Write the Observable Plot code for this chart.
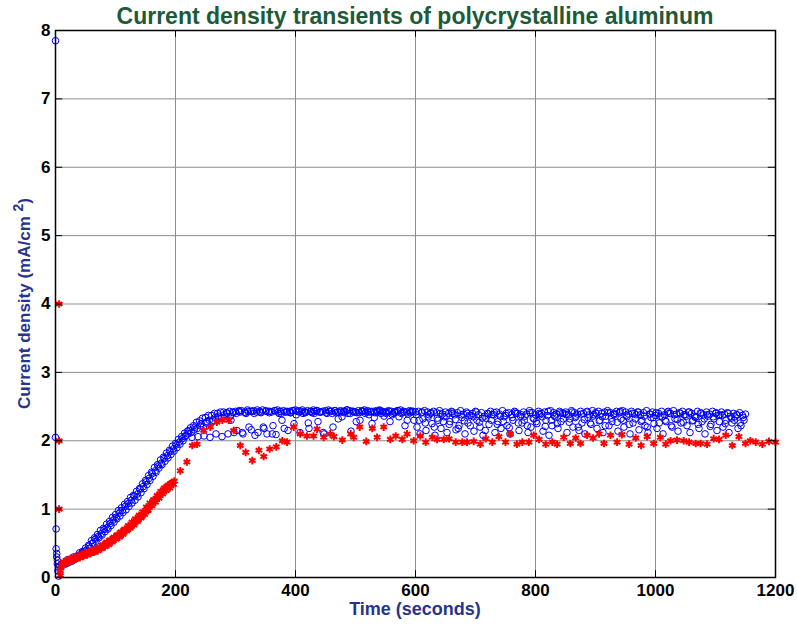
<!DOCTYPE html>
<html><head><meta charset="utf-8">
<script src="https://cdn.jsdelivr.net/npm/d3@7"></script>
<script src="https://cdn.jsdelivr.net/npm/@observablehq/plot@0.6"></script>
<style>body{margin:0;background:#fff} svg{font-family:"Liberation Sans",Arial,sans-serif}</style>
</head><body><div id="chart"></div>
<script>
const titleText = "Current density transients of polycrystalline aluminum";
const xLabel = "Time (seconds)";
const xTicks = [0, 200, 400, 600, 800, 1000, 1200];
const yTicks = [0, 1, 2, 3, 4, 5, 6, 7, 8];

// Blue series (circles): first few samples near t = 0
const blueStartT = [0, 0, 1, 1, 2, 2, 3, 3, 4, 5];
const blueStartV = [7.85, 2.05, 0.71, 0.42, 0.35, 0.30, 0.25, 0.20, 0.10, 0.02];

// Blue series A, sampled every 5 s from t = 5 s
const blueAStart = 5, blueAStep = 5;
const blueAValues = [
  0.15,0.20,0.21,0.26,0.27,0.30,0.31,0.36,0.38,0.43,
  0.47,0.54,0.58,0.63,0.69,0.72,0.78,0.82,0.88,0.92,
  0.98,1.02,1.07,1.11,1.17,1.20,1.26,1.30,1.37,1.42,
  1.49,1.54,1.61,1.65,1.72,1.76,1.82,1.86,1.92,1.96,
  2.02,2.06,2.11,2.14,2.19,2.22,2.27,2.29,2.33,2.34,
  2.37,2.37,2.40,2.40,2.42,2.42,2.41,2.43,2.42,2.43,
  2.43,2.44,2.42,2.45,2.43,2.44,2.42,2.43,2.45,2.44,
  2.43,2.42,2.44,2.45,2.43,2.44,2.42,2.43,2.44,2.45,
  2.44,2.43,2.42,2.44,2.43,2.45,2.44,2.42,2.43,2.44,
  2.45,2.43,2.44,2.42,2.44,2.43,2.45,2.44,2.43,2.42,
  2.44,2.43,2.45,2.44,2.42,2.43,2.44,2.45,2.43,2.42,
  2.44,2.43,2.42,2.44,2.45,2.43,2.42,2.44,2.43,2.42,
  2.43,2.41,2.44,2.42,2.40,2.43,2.41,2.44,2.39,2.42,
  2.40,2.43,2.38,2.41,2.44,2.39,2.42,2.37,2.40,2.43,
  2.38,2.41,2.36,2.40,2.43,2.38,2.42,2.39,2.44,2.37,
  2.41,2.38,2.43,2.40,2.36,2.42,2.39,2.44,2.41,2.38,
  2.43,2.40,2.42,2.37,2.44,2.41,2.39,2.43,2.40,2.42,
  2.38,2.44,2.41,2.39,2.43,2.40,2.42,2.38,2.44,2.41,
  2.43,2.40,2.42,2.44,2.41,2.39,2.43,2.41,2.44,2.42,
  2.39,2.43,2.40,2.42,2.38,2.41,2.44,2.39,2.42,2.37,
  2.40,2.43,2.38,2.42,2.40,2.44,2.39,2.41,2.43,2.38,
  2.42,2.40,2.36,2.43,2.41,2.38,2.42,2.39,2.43,2.40,
  2.37,2.42,2.39,2.41,2.36,2.40,2.38,2.41,2.37,2.39
];

// Blue series B, sampled every 5 s from t = 7.5 s
const blueBStart = 7.5, blueBStep = 5;
const blueBValues = [
  0.17,0.18,0.20,0.22,0.24,0.27,0.29,0.31,0.35,0.38,
  0.43,0.50,0.53,0.58,0.62,0.67,0.71,0.76,0.81,0.86,
  0.90,0.95,0.99,1.04,1.09,1.13,1.18,1.24,1.30,1.36,
  1.42,1.48,1.54,1.60,1.65,1.70,1.75,1.80,1.85,1.90,
  1.95,2.00,2.08,2.15,2.05,2.20,2.06,2.25,2.07,2.28,
  2.05,2.30,2.10,2.32,2.06,2.35,2.10,2.30,2.12,
  2.15,2.42,2.10,2.40,2.20,2.43,2.08,2.12,2.41,2.18,
  2.10,2.43,2.22,2.09,2.40,2.30,2.42,2.15,2.41,2.25,
  2.43,2.12,2.40,2.42,2.18,2.41,2.43,2.28,2.42,2.10,
  2.40,2.43,2.20,2.41,2.42,2.35,2.43,2.40,2.14,2.42,
  2.41,2.30,2.43,2.42,2.38,2.25,2.41,2.43,2.40,2.36,
  2.42,2.28,2.40,2.43,2.35,2.41,2.22,2.39,2.43,2.30,
  2.20,2.10,2.32,2.15,2.38,2.25,2.08,2.30,2.18,2.35,
  2.12,2.28,2.40,2.16,2.22,2.34,2.10,2.26,2.37,2.14,
  2.30,2.20,2.08,2.33,2.24,2.38,2.12,2.28,2.18,2.35,
  2.22,2.10,2.30,2.40,2.15,2.26,2.36,2.12,2.20,2.32,
  2.25,2.38,2.14,2.30,2.08,2.22,2.35,2.18,2.28,2.40,
  2.12,2.32,2.20,2.36,2.15,2.26,2.10,2.34,2.24,2.38,
  2.18,2.30,2.12,2.36,2.22,2.28,2.40,2.14,2.32,2.20,
  2.35,2.10,2.26,2.38,2.16,2.30,2.22,2.12,2.34,2.25,
  2.18,2.36,2.10,2.28,2.40,2.20,2.32,2.14,2.26,2.38,
  2.22,2.12,2.30,2.35,2.18,2.28,2.10,2.36,2.24,2.32,
  2.15,2.38,2.20,2.30,2.12,2.26,2.35,2.18,2.22,2.30
];

// Blue series C, sampled every 5 s from t = 11.25 s
const blueCStart = 11.25, blueCStep = 5;
const blueCValues = [
  0.20,0.21,0.24,0.25,0.28,0.30,0.33,0.37,0.40,0.46,
  0.50,0.56,0.60,0.64,0.70,0.73,0.79,0.84,0.88,0.94,
  0.98,1.04,1.08,1.13,1.19,1.22,1.29,1.33,1.40,1.45,
  1.52,1.56,1.63,1.67,1.74,1.78,1.84,1.88,1.94,1.98,
  2.03,2.06,2.10,2.12,2.16,2.18,2.22,2.20,2.26,2.30,
  2.28,2.34,2.36,2.33,2.38,2.40,2.36,2.41,
  2.40,2.44,2.12,2.41,2.43,2.16,2.40,2.45,2.42,2.20,
  2.43,2.41,2.10,2.44,2.42,2.40,2.18,2.43,2.41,2.44,
  2.38,2.42,2.45,2.41,2.26,2.43,2.40,2.44,2.42,2.12,
  2.41,2.43,2.40,2.44,2.32,2.42,2.41,2.45,2.40,2.43,
  2.28,2.41,2.44,2.40,2.42,2.43,2.34,2.41,2.44,2.42,
  2.40,2.43,2.38,2.41,2.44,2.40,2.42,2.30,2.41,2.43,
  2.38,2.30,2.42,2.26,2.35,2.41,2.20,2.33,2.40,2.28,
  2.36,2.24,2.42,2.31,2.18,2.38,2.29,2.40,2.22,2.35,
  2.42,2.27,2.33,2.15,2.39,2.30,2.41,2.24,2.36,2.28,
  2.40,2.19,2.34,2.42,2.26,2.38,2.30,2.22,2.41,2.33,
  2.28,2.40,2.35,2.21,2.43,2.30,2.37,2.25,2.41,2.32,
  2.38,2.27,2.42,2.34,2.20,2.39,2.31,2.43,2.26,2.36,
  2.40,2.29,2.35,2.22,2.41,2.33,2.38,2.27,2.43,2.30,
  2.37,2.24,2.40,2.32,2.42,2.28,2.36,2.20,2.39,2.34,
  2.41,2.26,2.35,2.30,2.43,2.22,2.38,2.31,2.40,2.27,
  2.36,2.42,2.29,2.34,2.24,2.40,2.32,2.38,2.21,2.35,
  2.41,2.28,2.37,2.25,2.40,2.33,2.30,2.38,2.26,2.34
];

// Red series (stars): first samples near t = 0
const redStartT = [6, 6, 6, 8, 8];
const redStartV = [4.00, 2.00, 1.00, 0.03, 0.10];

// Red series dense part, sampled every 3 s from t = 9 s
const redDenseStart = 9, redDenseStep = 3;
const redDenseValues = [
  0.14,0.20,0.21,0.23,0.24,0.26,0.26,0.27,0.28,0.29,
  0.30,0.31,0.32,0.33,0.34,0.35,0.36,0.37,0.38,0.39,
  0.41,0.42,0.44,0.45,0.47,0.49,0.51,0.52,0.54,0.56,
  0.58,0.60,0.61,0.63,0.65,0.67,0.69,0.71,0.73,0.75,
  0.78,0.80,0.83,0.85,0.88,0.90,0.93,0.96,1.00,1.03,
  1.06,1.09,1.12,1.15,1.18,1.22,1.25,1.28,1.31,1.33,
  1.35,1.37,1.39,1.41
];
// Red dense part, second interleaved set, every 3 s from t = 10.5 s
const redDense2Start = 10.5, redDense2Step = 3;
const redDense2Values = [
  0.19,0.23,0.20,0.25,0.22,0.28,0.25,0.30,0.27,0.32,
  0.29,0.34,0.31,0.36,0.33,0.38,0.35,0.40,0.37,0.42,
  0.39,0.45,0.42,0.48,0.45,0.52,0.48,0.55,0.52,0.59,
  0.56,0.63,0.59,0.67,0.63,0.71,0.68,0.76,0.72,0.81,
  0.77,0.86,0.82,0.91,0.87,0.96,0.92,1.03,0.98,1.09,
  1.05,1.14,1.10,1.20,1.16,1.26,1.22,1.31,1.27,1.35,
  1.31,1.38,1.36
];

// Red series sparse part
const redSparseT = [208,219,228,236,247,258,269,278,289,297,308,317,328,339,347,357,368,378,386,397,
  408,419,430,436,447,458,464,478,492,497,507,518,528,536,547,558,567,578,586,597,
  608,617,628,636,647,656,667,678,686,697,708,717,728,739,750,758,769,778,789,797,
  806,817,828,836,847,858,867,875,886,896,906,914,925,936,944,956,967,976,986,997,
  1008,1017,1025,1036,1047,1056,1067,1075,1086,1097,1106,1117,1128,1139,1150,1158,1167,1178,1189,1200];
const redSparseV = [1.56,1.69,1.93,1.95,2.15,2.20,2.27,2.30,2.30,2.15,1.93,1.83,1.71,1.86,1.77,1.88,1.91,2.00,1.98,2.20,
  2.10,2.07,2.07,2.17,2.05,2.10,2.06,2.01,2.10,2.05,2.20,1.99,2.18,2.05,2.20,2.02,2.07,2.02,2.10,2.00,
  2.07,1.98,2.05,2.02,2.02,2.03,1.98,1.98,1.98,1.99,1.95,2.03,1.98,2.06,1.98,2.10,1.95,1.98,1.98,2.08,
  2.02,1.95,1.98,1.95,2.05,1.96,2.04,1.96,2.08,2.04,2.10,1.96,2.08,1.98,2.09,1.95,2.04,1.93,2.06,1.96,
  2.05,1.95,2.00,2.01,2.00,1.98,1.96,1.96,1.95,2.03,2.02,2.08,1.93,2.06,1.96,2.00,1.98,1.95,1.99,1.98];

const seq = (vals, start, step) => vals.map((v, i) => ({t: start + step * i, v}));
const blue = [
  ...blueStartT.map((t, i) => ({t, v: blueStartV[i]})),
  ...seq(blueAValues, blueAStart, blueAStep),
  ...seq(blueBValues, blueBStart, blueBStep),
  ...seq(blueCValues, blueCStart, blueCStep)
];
const red = [
  ...redStartT.map((t, i) => ({t, v: redStartV[i]})),
  ...seq(redDenseValues, redDenseStart, redDenseStep),
  ...seq(redDense2Values, redDense2Start, redDense2Step),
  ...redSparseT.map((t, i) => ({t, v: redSparseV[i]}))
];

const W = 797, H = 625, mL = 55, mR = 22, mT = 30, mB = 48;
const labelColor = "#27348b";
const fmt = d3.format("d");

const chart = Plot.plot({
  width: W, height: H,
  marginLeft: mL, marginRight: mR, marginTop: mT, marginBottom: mB,
  style: {fontFamily: '"Liberation Sans", Arial, sans-serif', background: "#fff"},
  x: {domain: [0, 1200]},
  y: {domain: [0, 8]},
  marks: [
    Plot.ruleX(xTicks, {x: d => d, stroke: "#8c8c8c", strokeWidth: 1}),
    Plot.ruleY(yTicks, {y: d => d, stroke: "#8c8c8c", strokeWidth: 1}),
    Plot.dot(blue, {x: "t", y: "v", r: 3.3, stroke: "#0000ff", strokeWidth: 1, fill: "none"}),
    Plot.dot(red, {x: "t", y: "v", r: 3.6, symbol: "asterisk", stroke: "#ff0000", strokeWidth: 2}),
    Plot.ruleX(xTicks, {x: d => d, y1: 0, y2: 0.1, stroke: "black"}),
    Plot.ruleX(xTicks, {x: d => d, y1: 7.9, y2: 8, stroke: "black"}),
    Plot.ruleY(yTicks, {y: d => d, x1: 0, x2: 12, stroke: "black"}),
    Plot.ruleY(yTicks, {y: d => d, x1: 1188, x2: 1200, stroke: "black"}),
    Plot.frame({stroke: "black", strokeWidth: 1.5}),
    Plot.axisX(xTicks, {tickSize: 0, tickPadding: 6, tickFormat: fmt, fontSize: 17, fontWeight: "bold", fill: "black", label: null}),
    Plot.axisY(yTicks, {tickSize: 0, tickPadding: 5, tickFormat: fmt, fontSize: 17, fontWeight: "bold", fill: "black", label: null})
  ]
});

const svg = d3.select(chart);
const cx = mL + (W - mL - mR) / 2;
svg.append("text").attr("x", cx).attr("y", 24).attr("text-anchor", "middle")
  .attr("font-size", 23).attr("font-weight", "bold").attr("fill", "#1d5a3a").text(titleText);
svg.append("text").attr("x", cx).attr("y", 615).attr("text-anchor", "middle")
  .attr("font-size", 18).attr("font-weight", "bold").attr("fill", labelColor).text(xLabel);
const yl = svg.append("text").attr("transform", `translate(30,${(mT + H - mB) / 2}) rotate(-90)`)
  .attr("text-anchor", "middle").attr("font-size", 17).attr("font-weight", "bold").attr("fill", labelColor);
yl.append("tspan").text("Current density (mA/cm ");
yl.append("tspan").attr("dy", -7).attr("font-size", 14).text("2");
yl.append("tspan").attr("dy", 7).text(")");

document.getElementById("chart").appendChild(chart);
</script>
</body></html>
